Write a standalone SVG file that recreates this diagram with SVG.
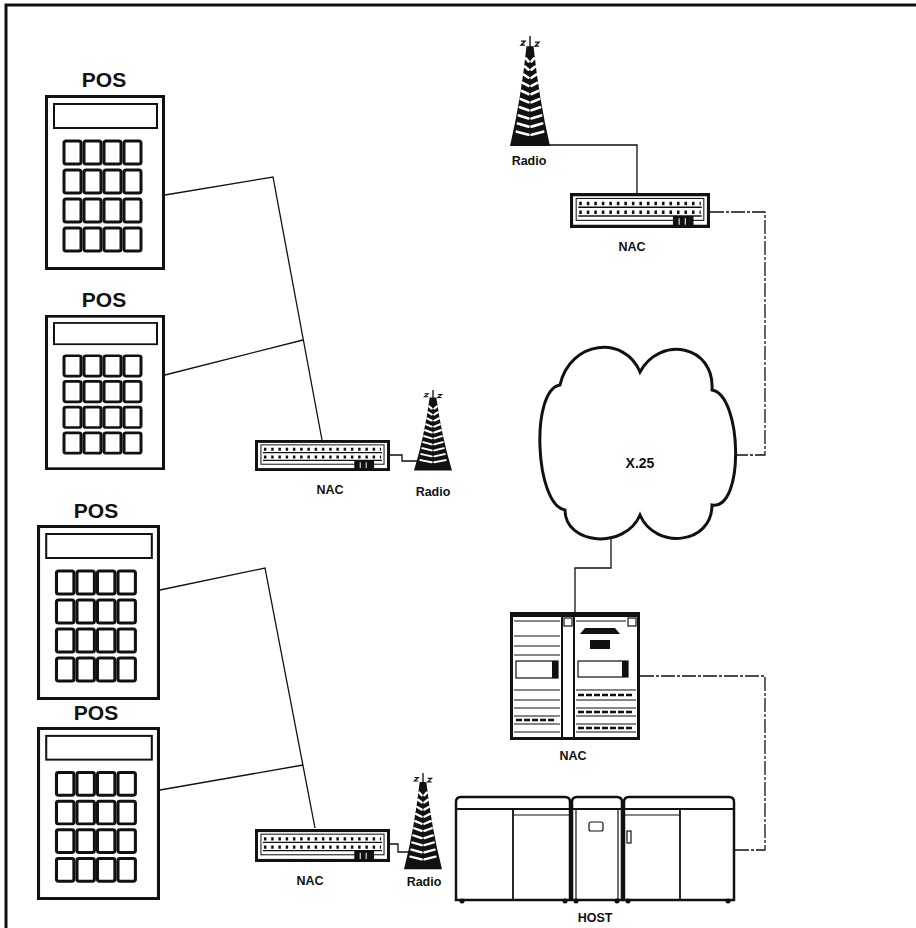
<svg xmlns="http://www.w3.org/2000/svg" xmlns:xlink="http://www.w3.org/1999/xlink" width="916" height="928" viewBox="0 0 916 928">
  <style>
    .ln { fill: none; stroke: #111; stroke-width: 1.3; stroke-linejoin: miter; }
    .dash { stroke-dasharray: 14 2 3 2; }
    .lbl { font-family: "Liberation Sans", Arial, sans-serif; font-weight: bold; fill: #111; text-anchor: middle; }
    .thin { fill: none; stroke: #111; stroke-width: 1.2; }
  </style>
  <defs>
    <!-- point-of-sale terminal: housing, display and 4x4 keypad -->
    <g id="keyrow">
      <rect x="19" y="0" width="17" height="23" rx="2"/>
      <rect x="39" y="0" width="17" height="23" rx="2"/>
      <rect x="59" y="0" width="17" height="23" rx="2"/>
      <rect x="79" y="0" width="17" height="23" rx="2"/>
    </g>
    <symbol id="pos" viewBox="0 0 120 175" preserveAspectRatio="none">
      <rect x="1.5" y="1.5" width="117" height="172" fill="#fff" stroke="#111" stroke-width="3"/>
      <rect x="9" y="9" width="103" height="24" fill="none" stroke="#111" stroke-width="2"/>
      <g fill="#fff" stroke="#111" stroke-width="3">
        <use xlink:href="#keyrow" y="46"/>
        <use xlink:href="#keyrow" y="75"/>
        <use xlink:href="#keyrow" y="104"/>
        <use xlink:href="#keyrow" y="133"/>
      </g>
    </symbol>
    <!-- network access controller, rack-mount box with two port rows -->
    <symbol id="nacbox" viewBox="0 0 136 32" preserveAspectRatio="none">
      <rect x="1.5" y="1.5" width="133" height="29" fill="#fff" stroke="#111" stroke-width="3"/>
      <rect x="6" y="5" width="124" height="20" fill="none" stroke="#111" stroke-width="1"/>
      <line x1="9" y1="9.5" x2="127" y2="9.5" stroke="#111" stroke-width="3.2" stroke-dasharray="2.5 4.8"/>
      <line x1="8" y1="13" x2="128" y2="13" stroke="#111" stroke-width="1.2"/>
      <line x1="9" y1="17.5" x2="127" y2="17.5" stroke="#111" stroke-width="3.2" stroke-dasharray="2.5 4.8"/>
      <line x1="8" y1="21" x2="128" y2="21" stroke="#111" stroke-width="1.2"/>
      <rect x="100" y="21" width="20" height="9" fill="#111"/>
      <line x1="106" y1="23" x2="106" y2="29" stroke="#fff" stroke-width="1"/>
      <line x1="112" y1="23" x2="112" y2="29" stroke="#fff" stroke-width="1"/>
    </symbol>
    <!-- radio mast with antenna sparks -->
    <symbol id="tower" viewBox="0 0 40 110" preserveAspectRatio="none">
      <line x1="20" y1="0" x2="20" y2="12" stroke="#111" stroke-width="1.4"/>
      <path d="M11,5 H15 L11,9 H15 M25,6 H29 L25,10 H29" fill="none" stroke="#111" stroke-width="1.3"/>
      <path d="M16.5,10 L23.5,10 Q29,62 40,108 L0,108 Q11,62 16.5,10 Z" fill="#111"/>
      <path d="M15.9,22 L18.5,25 M24.1,22 L21.5,25
               M14.8,30 L18.5,33 M25.2,30 L21.5,33
               M13.8,38 L18.5,41 M26.2,38 L21.5,41
               M12.8,46 L18.5,49 M27.2,46 L21.5,49
               M11.8,54 L18.5,57 M28.2,54 L21.5,57
               M10.8,62 L18.5,65 M29.2,62 L21.5,65
               M9.8,70 L18.5,73 M30.2,70 L21.5,73
               M8.8,78 L18.5,81 M31.2,78 L21.5,81
               M7.8,86 L18.5,89 M32.2,86 L21.5,89
               M6.8,94 L18.5,97 M33.2,94 L21.5,97"
            fill="none" stroke="#fff" stroke-width="2.6" stroke-linecap="round"/>
    </symbol>
  </defs>

  <rect width="916" height="928" fill="#fff"/>

  <!-- outer frame -->
  <path d="M6,928 V5 H916" fill="none" stroke="#111" stroke-width="3"/>

  <!-- connectors -->
  <g id="connectors">
    <path class="ln" d="M165,195 L273,177 L322,440"/>
    <path class="ln" d="M165,375 L303,340"/>
    <path class="ln" d="M160,590 L265,568 L315,828"/>
    <path class="ln" d="M160,790 L303,765"/>
    <path class="ln" d="M390,455 H402 V461 H420"/>
    <path class="ln" d="M390,844 H398 V852 H410"/>
    <path class="ln" d="M547,145 H637 V193"/>
    <path class="ln dash" d="M710,212 H765 V455 H736"/>
    <path class="ln" d="M611,538 V568 H575 V612"/>
    <path class="ln dash" d="M640,676 H765 V850 H735"/>
  </g>

  <!-- POS terminals -->
  <g id="pos1">
    <text class="lbl" x="104" y="87" font-size="21">POS</text>
    <use xlink:href="#pos" x="45" y="95" width="120" height="175"/>
  </g>
  <g id="pos2">
    <text class="lbl" x="104" y="307" font-size="21">POS</text>
    <use xlink:href="#pos" x="45" y="315" width="120" height="155"/>
  </g>
  <g id="pos3">
    <text class="lbl" x="96" y="518" font-size="21">POS</text>
    <use xlink:href="#pos" x="37" y="525" width="123" height="175"/>
  </g>
  <g id="pos4">
    <text class="lbl" x="96" y="720" font-size="21">POS</text>
    <use xlink:href="#pos" x="37" y="727" width="123" height="173"/>
  </g>

  <!-- access controllers -->
  <g id="nac1">
    <use xlink:href="#nacbox" x="255" y="440" width="135" height="31"/>
    <text class="lbl" x="330" y="494" font-size="12.5">NAC</text>
  </g>
  <g id="nac2">
    <use xlink:href="#nacbox" x="255" y="829" width="135" height="33"/>
    <text class="lbl" x="310" y="885" font-size="12.5">NAC</text>
  </g>
  <g id="nac-top">
    <use xlink:href="#nacbox" x="570" y="193" width="140" height="35"/>
    <text class="lbl" x="632" y="251" font-size="12.5">NAC</text>
  </g>

  <!-- radio masts -->
  <g id="radio-top">
    <use xlink:href="#tower" x="510" y="36" width="40" height="112"/>
    <text class="lbl" x="529" y="165" font-size="12.5">Radio</text>
  </g>
  <g id="radio1">
    <use xlink:href="#tower" x="414" y="390" width="38" height="82"/>
    <text class="lbl" x="433" y="496" font-size="12.5">Radio</text>
  </g>
  <g id="radio2">
    <use xlink:href="#tower" x="404" y="773" width="38" height="98"/>
    <text class="lbl" x="424" y="886" font-size="12.5">Radio</text>
  </g>

  <!-- X.25 packet network -->
  <g id="x25">
    <path d="M560,385 C570,340 625,335 640,372 C660,335 715,345 712,390 C742,395 745,510 712,505 C712,545 655,550 640,515 C625,550 565,545 565,510 C535,505 530,390 560,385 Z"
          fill="#fff" stroke="#111" stroke-width="3"/>
    <text class="lbl" x="640" y="468" font-size="14">X.25</text>
  </g>

  <!-- front-end controller cabinet -->
  <g id="nac-rack">
    <rect x="511.5" y="613.5" width="127" height="125" fill="#fff" stroke="#111" stroke-width="3"/>
    <rect x="510" y="612" width="130" height="5" fill="#111"/>
    <line x1="562" y1="615" x2="562" y2="738" stroke="#111" stroke-width="2"/>
    <line x1="574" y1="615" x2="574" y2="738" stroke="#111" stroke-width="2"/>
    <rect x="564" y="618" width="8" height="8" fill="none" stroke="#111" stroke-width="1.2"/>
    <rect x="628" y="618" width="8" height="8" fill="none" stroke="#111" stroke-width="1.2"/>
    <g class="thin">
      <line x1="514" y1="621" x2="560" y2="621"/>
      <line x1="514" y1="636" x2="560" y2="636"/>
      <line x1="514" y1="646" x2="560" y2="646"/>
      <line x1="514" y1="655" x2="560" y2="655"/>
      <rect x="516" y="661" width="42" height="17"/>
      <line x1="514" y1="690" x2="560" y2="690"/>
      <line x1="514" y1="700" x2="560" y2="700"/>
      <line x1="514" y1="708" x2="560" y2="708"/>
      <line x1="514" y1="716" x2="560" y2="716"/>
      <line x1="514" y1="724" x2="560" y2="724"/>
      <line x1="514" y1="732" x2="560" y2="732"/>
      <line x1="576" y1="621" x2="626" y2="621"/>
      <rect x="578" y="661" width="50" height="16"/>
      <line x1="576" y1="690" x2="636" y2="690"/>
      <line x1="576" y1="700" x2="636" y2="700"/>
      <line x1="576" y1="708" x2="636" y2="708"/>
      <line x1="576" y1="716" x2="636" y2="716"/>
      <line x1="576" y1="724" x2="636" y2="724"/>
      <line x1="576" y1="732" x2="636" y2="732"/>
    </g>
    <rect x="552" y="661" width="6" height="17" fill="#111"/>
    <rect x="622" y="661" width="6" height="16" fill="#111"/>
    <path d="M580,634 L585,628 H615 L620,634 Z" fill="#111"/>
    <rect x="590" y="640" width="20" height="9" fill="#111"/>
    <g stroke="#111" stroke-width="2.4" stroke-dasharray="6 2">
      <line x1="578" y1="695" x2="634" y2="695"/>
      <line x1="578" y1="712" x2="634" y2="712"/>
      <line x1="578" y1="728" x2="634" y2="728"/>
      <line x1="516" y1="720" x2="556" y2="720"/>
    </g>
    <text class="lbl" x="573" y="760" font-size="12.5">NAC</text>
  </g>

  <!-- host mainframe -->
  <g id="host">
    <g fill="#fff" stroke="#111" stroke-width="2.5">
      <path d="M456,900 V802 Q456,797 461,797 H565 Q570,797 570,802 V900 Z"/>
      <path d="M572,900 V802 Q572,797 577,797 H617 Q622,797 622,802 V900 Z"/>
      <path d="M624,900 V802 Q624,797 629,797 H729 Q734,797 734,802 V900 Z"/>
    </g>
    <g stroke="#111" stroke-width="1.8" fill="none">
      <line x1="456" y1="809" x2="570" y2="809"/>
      <line x1="572" y1="809" x2="622" y2="809"/>
      <line x1="624" y1="809" x2="734" y2="809"/>
      <line x1="513" y1="809" x2="513" y2="900"/>
      <line x1="680" y1="809" x2="680" y2="900"/>
    </g>
    <g class="thin">
      <line x1="513" y1="815" x2="570" y2="815"/>
      <line x1="624" y1="815" x2="680" y2="815"/>
      <line x1="576" y1="809" x2="576" y2="900"/>
      <line x1="618" y1="809" x2="618" y2="900"/>
      <rect x="589" y="822" width="14" height="9" rx="2"/>
      <rect x="627" y="831" width="4" height="12"/>
    </g>
    <g fill="#111">
      <circle cx="462" cy="901" r="2.5"/>
      <circle cx="565" cy="901" r="2.5"/>
      <circle cx="576" cy="901" r="2.5"/>
      <circle cx="617" cy="901" r="2.5"/>
      <circle cx="628" cy="901" r="2.5"/>
      <circle cx="728" cy="901" r="2.5"/>
    </g>
    <text class="lbl" x="595" y="922" font-size="12.5">HOST</text>
  </g>
</svg>
